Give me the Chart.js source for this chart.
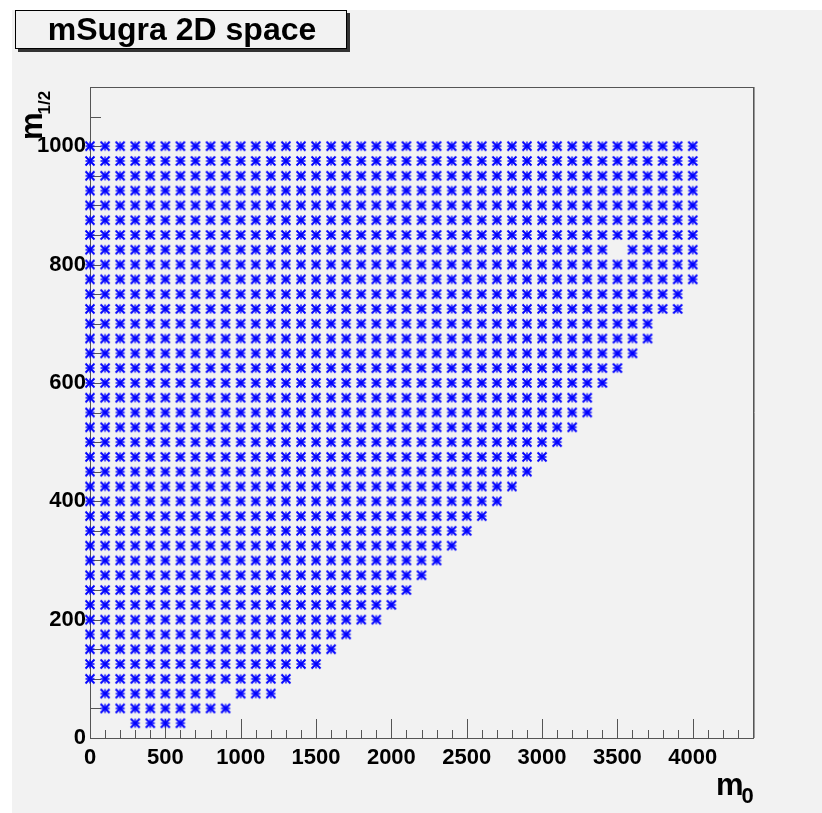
<!DOCTYPE html>
<html>
<head>
<meta charset="utf-8">
<script src="https://cdn.jsdelivr.net/npm/chart.js@4"></script>
<style>
  html, body { margin: 0; padding: 0; background: #fff; }
  canvas { display: block; }
</style>
</head>
<body>
<canvas id="grafico" width="822" height="813"></canvas>
<script>
// ======== DATA ===========
// one row of the grid per m1/2 value: first and last m0 of the row
const m12Rows = [25, 50, 75, 100, 125, 150, 175, 200, 225, 250,
  275, 300, 325, 350, 375, 400, 425, 450, 475, 500,
  525, 550, 575, 600, 625, 650, 675, 700, 725, 750,
  775, 800, 825, 850, 875, 900, 925, 950, 975, 1000];
const m0First = [300, 100, 100, 0, 0, 0, 0, 0, 0, 0,
  0, 0, 0, 0, 0, 0, 0, 0, 0, 0,
  0, 0, 0, 0, 0, 0, 0, 0, 0, 0,
  0, 0, 0, 0, 0, 0, 0, 0, 0, 0];
const m0Last = [600, 900, 1200, 1300, 1500, 1600, 1700, 1900, 2000, 2100,
  2200, 2300, 2400, 2500, 2600, 2700, 2800, 2900, 3000, 3100,
  3200, 3300, 3300, 3400, 3500, 3600, 3700, 3700, 3900, 3900,
  4000, 4000, 4000, 4000, 4000, 4000, 4000, 4000, 4000, 4000];
const m0Step = 100;
// grid points that are absent in the scan
const missingPoints = [[900, 75], [3500, 825]];

const xTickLabels = [0, 500, 1000, 1500, 2000, 2500, 3000, 3500, 4000];
const yTickLabels = [0, 200, 400, 600, 800, 1000];
const xMinorStep = 100;
const yMinorStep = 50;

const points = [];
m12Rows.forEach((m12, i) => {
  for (let m0 = m0First[i]; m0 <= m0Last[i]; m0 += m0Step) {
    if (missingPoints.some(p => p[0] === m0 && p[1] === m12)) continue;
    points.push({ x: m0, y: m12 });
  }
});

// ======== MARKER (ROOT star) ===========
function rootStar() {
  const c = document.createElement('canvas');
  c.width = 12; c.height = 12;
  const g = c.getContext('2d');
  g.strokeStyle = '#0000ff';
  g.lineWidth = 2;
  g.beginPath();
  g.moveTo(1.5, 1.5); g.lineTo(10.5, 10.5);
  g.moveTo(10.5, 1.5); g.lineTo(1.5, 10.5);
  g.stroke();
  g.lineWidth = 1.4;
  g.beginPath();
  g.moveTo(6, 1.5); g.lineTo(6, 10.5);
  g.moveTo(1.5, 6); g.lineTo(10.5, 6);
  g.stroke();
  return c;
}

const FONT = "'Liberation Sans', Arial, sans-serif";

// ======== PLUGINS ===========
const fundo = {
  id: 'fundo',
  beforeDraw(chart) {
    const ctx = chart.ctx;
    ctx.save();
    ctx.fillStyle = '#ffffff';
    ctx.fillRect(0, 0, chart.width, chart.height);
    ctx.fillStyle = '#f2f2f2';
    ctx.fillRect(12, 10, chart.width - 12, chart.height - 10);
    ctx.restore();
  }
};

const moldura = {
  id: 'moldura',
  beforeDatasetsDraw(chart) {
    const { ctx, chartArea: a, scales: { x, y } } = chart;
    ctx.save();
    ctx.strokeStyle = '#555';
    ctx.lineWidth = 1;
    ctx.strokeRect(a.left + 0.5, a.top + 0.5, a.right - a.left, a.bottom - a.top);
    ctx.strokeStyle = '#999';
    ctx.beginPath();
    ctx.moveTo(a.right + 1.5, a.top);
    ctx.lineTo(a.right + 1.5, a.bottom);
    ctx.stroke();

    // inward ticks
    ctx.strokeStyle = '#555';
    ctx.beginPath();
    for (let v = 0; v < x.max; v += xMinorStep) {
      const px = Math.round(x.getPixelForValue(v)) + 0.5;
      const len = v % 500 === 0 ? 19 : 8;
      ctx.moveTo(px, a.bottom);
      ctx.lineTo(px, a.bottom - len);
    }
    for (let v = 0; v < y.max; v += yMinorStep) {
      const py = Math.round(y.getPixelForValue(v)) + 0.5;
      ctx.moveTo(a.left, py);
      ctx.lineTo(a.left + 11, py);
    }
    ctx.stroke();
    ctx.restore();
  }
};

const textos = {
  id: 'textos',
  afterDraw(chart) {
    const ctx = chart.ctx;
    ctx.save();
    // title box with shadow
    ctx.fillStyle = '#333';
    ctx.fillRect(18, 13, 332, 39);
    ctx.fillStyle = '#f2f2f2';
    ctx.fillRect(15, 10, 332, 39);
    ctx.strokeStyle = '#000';
    ctx.lineWidth = 1;
    ctx.strokeRect(15.5, 10.5, 331, 38);
    ctx.fillStyle = '#000';
    ctx.font = 'bold 32px ' + FONT;
    ctx.textAlign = 'center';
    ctx.textBaseline = 'middle';
    ctx.fillText('mSugra 2D space', 182, 31);

    // x axis title m0
    ctx.textAlign = 'left';
    ctx.textBaseline = 'alphabetic';
    ctx.font = 'bold 31px ' + FONT;
    const wm = ctx.measureText('m').width;
    ctx.fillText('m', 716, 795);
    ctx.font = 'bold 22px ' + FONT;
    ctx.fillText('0', 716 + wm - 2, 803);

    // y axis title m1/2
    ctx.translate(42, 140);
    ctx.rotate(-Math.PI / 2);
    ctx.font = 'bold 31px ' + FONT;
    ctx.fillText('m', 0, 0);
    ctx.font = 'bold 17px ' + FONT;
    ctx.fillText('1/2', wm - 2, 8);
    ctx.restore();
  }
};

// ======== CHART ===========
new Chart(document.getElementById('grafico'), {
  type: 'scatter',
  data: {
    datasets: [{
      label: 'mSugra',
      data: points,
      pointStyle: rootStar(),
      pointRadius: 5,
      clip: false
    }]
  },
  options: {
    responsive: false,
    animation: false,
    layout: { padding: { left: 0, top: 87, right: 69, bottom: 0 } },
    plugins: {
      legend: { display: false },
      tooltip: { enabled: false }
    },
    scales: {
      x: {
        type: 'linear',
        min: 0,
        max: 4400,
        afterBuildTicks: s => { s.ticks = xTickLabels.map(v => ({ value: v })); },
        afterFit: s => { s.height = 75; },
        grid: { display: false, drawTicks: false },
        border: { display: false },
        ticks: {
          font: { family: FONT, size: 22, weight: 'bold' },
          color: '#000',
          padding: 7,
          maxRotation: 0,
          autoSkip: false,
          callback: v => String(v)
        }
      },
      y: {
        type: 'linear',
        min: 0,
        max: 1100,
        afterBuildTicks: s => { s.ticks = yTickLabels.map(v => ({ value: v })); },
        afterFit: s => { s.width = 90; },
        grid: { display: false, drawTicks: false },
        border: { display: false },
        ticks: {
          font: { family: FONT, size: 22, weight: 'bold' },
          color: '#000',
          padding: 4,
          autoSkip: false,
          callback: v => String(v)
        }
      }
    }
  },
  plugins: [fundo, moldura, textos]
});
</script>
</body>
</html>
